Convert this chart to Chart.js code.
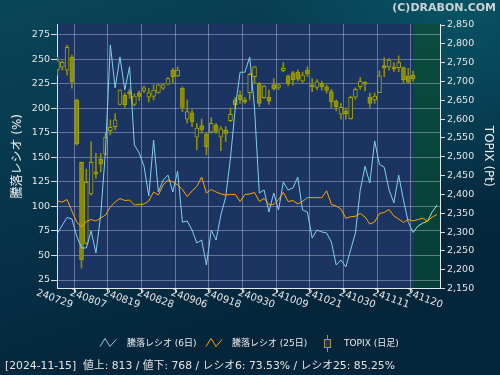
<!DOCTYPE html>
<html><head><meta charset="utf-8">
<script src="https://cdn.jsdelivr.net/npm/chart.js@4.4.1/dist/chart.umd.min.js"></script>
<style>html,body{margin:0;padding:0;background:#05283a;overflow:hidden}canvas{display:block}</style>
</head><body>
<canvas id="c" width="500" height="375"></canvas>
<script>
// ---- data ----
const dates = ['240729','240730','240731','240801','240802','240805','240806','240807','240808','240809',
 '240813','240814','240815','240816','240819','240820','240821','240822','240823','240826',
 '240827','240828','240829','240830','240902','240903','240904','240905','240906','240909',
 '240910','240911','240912','240913','240917','240918','240919','240920','240924','240925',
 '240926','240927','240930','241001','241002','241003','241004','241007','241008','241009',
 '241010','241011','241015','241016','241017','241018','241021','241022','241023','241024',
 '241025','241028','241029','241030','241031','241101','241105','241106','241107','241108',
 '241111','241112','241113','241114','241115','241118','241119','241120','241121','241122'];
const xTickLabels = ['240729','240807','240819','240828','240906','240918','240930','241009','241021','241030','241111','241120'];
const yLeftTicks = [25,50,75,100,125,150,175,200,225,250,275];
const yRightTicks = [2150,2200,2250,2300,2350,2400,2450,2500,2550,2600,2650,2700,2750,2800,2850];

const topixOpen  = [2731,2738,2730,2764,2651,2485,2270,2401,2460,2493,2507,2569,2580,2639,2664,2673,2639,2670,2675,2658,
 2660,2671,2682,2693,2730,2715,2682,2600,2617,2552,2583,2560,2565,2584,2552,2571,2596,2651,2664,2651,
 2670,2713,2695,2657,2658,2692,2684,2729,2715,2723,2725,2701,2730,2691,2684,2695,2686,2673,2648,2613,
 2622,2601,2658,2686,2698,2658,2651,2670,2742,2739,2739,2737,2737,2715,2717];
const topixHigh  = [2764,2755,2797,2770,2653,2486,2467,2540,2509,2509,2562,2598,2615,2678,2669,2680,2667,2675,2688,2682,
 2691,2692,2694,2711,2735,2738,2686,2651,2624,2589,2600,2564,2604,2589,2580,2580,2629,2658,2675,2658,
 2722,2741,2697,2690,2677,2708,2694,2750,2717,2727,2730,2725,2739,2708,2705,2701,2691,2679,2651,2642,
 2629,2661,2683,2711,2700,2669,2669,2728,2763,2761,2750,2768,2739,2735,2728];
const topixLow   = [2717,2730,2717,2682,2531,2204,2268,2398,2443,2460,2505,2558,2571,2638,2631,2655,2635,2650,2670,2646,
 2651,2668,2678,2691,2697,2713,2620,2589,2580,2518,2562,2505,2562,2562,2516,2540,2593,2629,2642,2642,
 2651,2695,2633,2655,2639,2677,2678,2726,2688,2691,2701,2697,2713,2673,2678,2677,2669,2631,2622,2600,
 2600,2600,2652,2679,2675,2631,2642,2670,2713,2730,2726,2726,2695,2695,2700];
const topixClose = [2755,2751,2791,2699,2534,2226,2432,2485,2454,2480,2552,2578,2598,2677,2638,2666,2661,2660,2683,2670,
 2677,2691,2691,2708,2713,2730,2631,2620,2593,2576,2571,2527,2589,2567,2574,2562,2613,2638,2651,2645,
 2719,2739,2642,2688,2648,2680,2691,2735,2695,2704,2706,2717,2720,2686,2699,2686,2676,2646,2633,2631,
 2614,2658,2679,2701,2693,2642,2661,2715,2737,2757,2733,2750,2704,2698,2707];

const ratio6 = [72.6,81,88.8,87.2,69.9,57.7,57.7,75,52.6,91.3,157.7,264.8,221,252.6,219,242.6,162.8,154.6,141.3,110.7,
 167.9,114.8,127,132,114.8,136,84,85.2,76,62.8,65.8,40.3,76,65.8,91.3,109.7,149.5,200.5,237,237,
 252.6,200.5,113.8,116.8,94.4,113.8,96.4,125,116.8,118.9,130.1,96.4,94.4,67.9,76,74,73,63.8,40.3,45.4,
 38.3,55.6,73,116.8,141,124,167,143,140,117,103.6,132,106.6,84,73.53];
const ratio25 = [105.6,104.6,107.1,95.4,84.2,79,84.7,86.7,85.2,88.3,91.3,99.5,104.6,108.2,106.1,106.6,101.5,102,102.5,105.6,
 114.8,111.7,122,127,125,122,117.3,110.2,115.8,120.4,130.1,113.8,117.3,114.8,112.8,111.7,112.2,112.2,105.1,112.2,
 112.8,114.3,105.1,108.2,102,102,107.1,114.3,105.1,106.1,102.6,105.1,109.2,109,109,109,116,102.2,100.5,97.4,
 88,89.6,90,92.9,89.3,82.1,84.2,92.9,93.9,97,90.3,87.2,83.7,86.7,85.25];
// projected values after the last trading day (index 74 onward)
const ratio6Proj  = [73.53,80,83,85,94.7,101.5];
const ratio25Proj = [85.25,86.7,88,85.2,89.3,92];

const lastIdx = topixClose.length - 1;
const tickIdx = xTickLabels.map(l => dates.indexOf(l));

const FONT = 'DejaVu Sans, "Noto Sans CJK JP", sans-serif';
const BLUE = '#86cfee', ORANGE = '#ffa500', OLIVE = '#a3a300', OLIVE_FILL = '#8a8a00', PLOTBG = '#1b3461';
const GRID = 'rgba(200,210,230,0.42)';

const bodies = topixOpen.map((o,i)=>({x:i, y:[o, topixClose[i]]}));
const wicks = topixHigh.map((h,i)=>({x:i, y:[topixLow[i], h]}));
const bodyFill = topixOpen.map((o,i)=> topixClose[i] < o ? OLIVE_FILL : PLOTBG);

const plugin = {
  id:'deco',
  beforeDraw(chart){
    const {ctx, chartArea:a} = chart;
    ctx.save();
    const g = ctx.createLinearGradient(0,0,120,375);
    g.addColorStop(0,'#0a4658'); g.addColorStop(0.55,'#06334a'); g.addColorStop(1,'#04253a');
    ctx.fillStyle=g; ctx.fillRect(0,0,500,375);
    const g2 = ctx.createRadialGradient(460,0,0,460,0,200);
    g2.addColorStop(0,'rgba(10,95,110,0.7)'); g2.addColorStop(1,'rgba(10,95,110,0)');
    ctx.fillStyle=g2; ctx.fillRect(0,0,500,375);
    ctx.fillStyle=PLOTBG; ctx.fillRect(a.left,a.top,a.right-a.left,a.bottom-a.top);
    const gx = chart.scales.x.getPixelForValue(lastIdx+0.15);
    const gg = ctx.createLinearGradient(0,a.top,0,a.bottom);
    gg.addColorStop(0,'#0b4c3e'); gg.addColorStop(1,'#063e38');
    ctx.fillStyle=gg; ctx.fillRect(gx,a.top,a.right-gx,a.bottom-a.top);
    ctx.restore();
  },
  afterDraw(chart){
    const {ctx} = chart;
    const xs = chart.scales.x;
    ctx.save();
    // x tick labels (rotated clockwise)
    ctx.fillStyle='#e6e6e6'; ctx.font='10px '+FONT; ctx.textAlign='center'; ctx.textBaseline='middle';
    tickIdx.forEach((ix,k)=>{
      const px = xs.getPixelForValue(ix);
      ctx.save(); ctx.translate(px-3, 299); ctx.rotate(20*Math.PI/180);
      ctx.fillText(xTickLabels[k],0,0); ctx.restore();
    });
    // title
    ctx.font='bold 11px '+FONT; ctx.textAlign='right'; ctx.textBaseline='middle';
    ctx.fillStyle='#c9d3d8'; ctx.fillText('(C)DRABON.COM', 496, 8);
    // legend
    ctx.font='9px '+FONT; ctx.textAlign='left'; ctx.fillStyle='#ececec';
    const ly = 343.5;
    const zig=(x,c)=>{ctx.strokeStyle=c; ctx.lineWidth=1; ctx.beginPath();
      ctx.moveTo(x,ly+3); ctx.lineTo(x+5,ly-5); ctx.lineTo(x+10,ly+3); ctx.lineTo(x+16,ly-4); ctx.stroke();};
    zig(100,BLUE); ctx.fillText('騰落レシオ (6日)',127,ly);
    zig(206,ORANGE); ctx.fillText('騰落レシオ (25日)',232,ly);
    ctx.strokeStyle=OLIVE; ctx.beginPath(); ctx.moveTo(327.5,335); ctx.lineTo(327.5,352); ctx.stroke();
    ctx.fillStyle=PLOTBG; ctx.fillRect(324.5,339.5,6,8); ctx.strokeRect(324.5,339.5,6,8);
    ctx.fillStyle='#ececec'; ctx.fillText('TOPIX (日足)',344,ly);
    // footer
    ctx.font='10.8px '+FONT; ctx.fillStyle='#e4e4e4';
    ctx.fillText('[2024-11-15]  値上: 813 / 値下: 768 / レシオ6: 73.53% / レシオ25: 85.25%', 5, 366);
    ctx.restore();
  }
};

new Chart(document.getElementById('c'), {
  type:'line',
  data:{datasets:[
    {type:'line', label:'騰落レシオ (25日)', data:ratio25.map((v,i)=>({x:i,y:v})), borderColor:ORANGE, borderWidth:1, pointRadius:0, yAxisID:'y', order:1},
    {type:'line', label:'騰落レシオ (25日) 予測', data:ratio25Proj.map((v,i)=>({x:lastIdx+i,y:v})), borderColor:ORANGE, borderWidth:1, pointRadius:0, yAxisID:'y', order:1},
    {type:'line', label:'騰落レシオ (6日)', data:ratio6.map((v,i)=>({x:i,y:v})), borderColor:BLUE, borderWidth:1, pointRadius:0, yAxisID:'y', order:2},
    {type:'line', label:'騰落レシオ (6日) 予測', data:ratio6Proj.map((v,i)=>({x:lastIdx+i,y:v})), borderColor:'#a6e6e0', borderWidth:1, pointRadius:0, yAxisID:'y', order:2},
    {type:'bar', label:'TOPIX body', data:bodies, backgroundColor:bodyFill, borderColor:OLIVE, borderWidth:1, borderSkipped:false, barThickness:4, grouped:false, yAxisID:'y2', order:3},
    {type:'bar', label:'TOPIX wick', data:wicks, backgroundColor:'#8e8e00', borderWidth:0, barThickness:1, grouped:false, yAxisID:'y2', order:4}
  ]},
  options:{
    responsive:false, animation:false, devicePixelRatio:1,
    layout:{padding:{left:0,right:0,top:24,bottom:0}},
    plugins:{legend:{display:false}, tooltip:{enabled:false}},
    scales:{
      x:{type:'linear', min:-0.1, max:79.6, offset:false,
        afterBuildTicks:s=>{s.ticks = tickIdx.map(v=>({value:v}));},
        afterFit:s=>{s.height=86.5;},
        ticks:{display:false},
        grid:{color:GRID, tickColor:'#dddddd', tickLength:4},
        border:{color:'#e0e8f0'}},
      y:{position:'left', min:16.33, max:286.2,
        afterBuildTicks:s=>{s.ticks = yLeftTicks.map(v=>({value:v}));},
        afterFit:s=>{s.width=57;},
        ticks:{color:'#e6e6e6', font:{family:FONT,size:9.5}, padding:1},
        grid:{color:GRID, tickColor:'#dddddd', tickLength:6},
        border:{color:'#e0e8f0'},
        title:{display:true, text:'騰落レシオ (%)', color:'#f0f0f0', font:{family:FONT,size:12}, padding:{top:11,bottom:0}}},
      y2:{position:'right', min:2150, max:2852.7,
        afterBuildTicks:s=>{s.ticks = yRightTicks.map(v=>({value:v}));},
        afterFit:s=>{s.width=60;},
        ticks:{color:'#e6e6e6', font:{family:FONT,size:9.5}, padding:2, callback:v=>v.toLocaleString('en-US')},
        grid:{drawOnChartArea:false, tickColor:'#dddddd', tickLength:5},
        border:{color:'#e0e8f0'},
        title:{display:true, text:'TOPIX (Pt)', color:'#f0f0f0', font:{family:FONT,size:12}, padding:{top:5,bottom:0}}}
    }
  },
  plugins:[plugin]
});
</script>
</body></html>
